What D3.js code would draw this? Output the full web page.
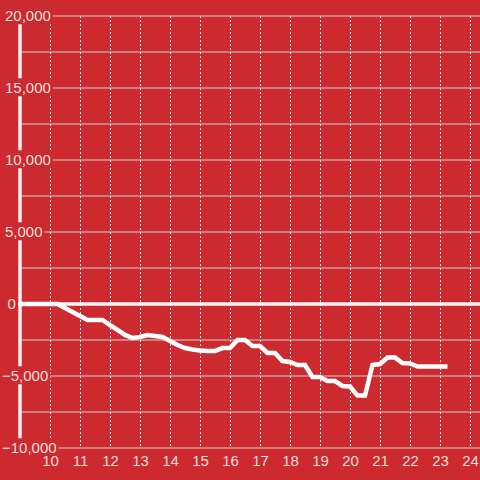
<!DOCTYPE html>
<html>
<head>
<meta charset="utf-8">
<script src="https://cdn.jsdelivr.net/npm/d3@7"></script>
<style>
html,body{margin:0;padding:0;background:#cc2a2e;}
svg{display:block;}
text{font-family:"Liberation Sans",Arial,sans-serif;font-size:15px;fill:#f4dede;}
</style>
</head>
<body>
<script>
const hours = [9,9.25,9.5,9.75,10,10.25,10.5,10.75,11,11.25,11.5,11.75,12,12.25,12.5,12.75,13,13.25,13.5,13.75,14,14.25,14.5,14.75,15,15.25,15.5,15.75,16,16.25,16.5,16.75,17,17.25,17.5,17.75,18,18.25,18.5,18.75,19,19.25,19.5,19.75,20,20.25,20.5,20.75,21,21.25,21.5,21.75,22,22.25,22.5,22.75,23,23.25];
const values = [0,0,0,0,0,0,-280,-560,-830,-1110,-1110,-1110,-1460,-1800,-2150,-2360,-2290,-2150,-2220,-2290,-2570,-2850,-3060,-3160,-3230,-3260,-3260,-3060,-3060,-2500,-2500,-2920,-2920,-3400,-3400,-3960,-4030,-4240,-4240,-5070,-5070,-5350,-5350,-5690,-5730,-6350,-6350,-4240,-4170,-3720,-3720,-4100,-4130,-4340,-4340,-4340,-4340,-4340];
const xTicks = [10,11,12,13,14,15,16,17,18,19,20,21,22,23,24];
const yGrid = [-10000,-7500,-5000,-2500,0,2500,5000,7500,10000,12500,15000,17500,20000];
const yLabels = [-10000,-5000,0,5000,10000,15000,20000];

const W = 480, H = 480, BG = "#cc2a2e";
const svg = d3.select("body").append("svg").attr("width", W).attr("height", H);
svg.append("rect").attr("width", W).attr("height", H).attr("fill", BG);

const x = d3.scaleLinear().domain([9, 24 + 1/3]).range([20, 480]);
const y = d3.scaleLinear().domain([-10000, 20000]).range([448, 16]);

// horizontal grid
svg.append("g").selectAll("line").data(yGrid.filter(d => d !== 0)).join("line")
  .attr("x1", x(9)).attr("x2", W)
  .attr("y1", d => y(d)).attr("y2", d => y(d))
  .attr("stroke", "#d2d2d2").attr("stroke-width", 1);

// vertical dashed grid
svg.append("g").selectAll("line").data(xTicks).join("line")
  .attr("x1", d => Math.round(x(d)) + 0.5).attr("x2", d => Math.round(x(d)) + 0.5)
  .attr("y1", y(20000)).attr("y2", y(-10000))
  .attr("stroke", "#e8e8e8").attr("stroke-width", 1).attr("stroke-dasharray", "2,2");

// y axis line
svg.append("line").attr("x1", x(9)).attr("x2", x(9)).attr("y1", y(20000)).attr("y2", y(-10000))
  .attr("stroke", "#f2f2f2").attr("stroke-width", 3.5);

// zero line
svg.append("line").attr("x1", x(9) - 2).attr("x2", W).attr("y1", y(0)).attr("y2", y(0))
  .attr("stroke", "#f6f6f6").attr("stroke-width", 3.5);

// data line
const line = d3.line().x((d, i) => x(hours[i])).y(d => y(d));
svg.append("path").datum(values).attr("d", line)
  .attr("fill", "none").attr("stroke", "#ffffff").attr("stroke-width", 4.5)
  .attr("stroke-linejoin", "miter");

// y labels with background boxes
const fmt = d3.format(",");
const yl = svg.append("g").selectAll("g").data(yLabels).join("g");
yl.each(function(d) {
  const g = d3.select(this);
  const t = g.append("text").attr("x", d < 0 ? 2 : (d === 0 ? 7.5 : 5)).attr("y", y(d)).attr("dy", "0.35em").text(fmt(d));
  const b = t.node().getBBox();
  g.insert("rect", "text").attr("x", b.x - 1).attr("y", b.y - 1).attr("width", b.width + 3).attr("height", b.height + 1).attr("fill", BG);
});

// x labels
svg.append("g").selectAll("text").data(xTicks).join("text")
  .attr("x", d => x(d) + 0.5).attr("y", 466).attr("text-anchor", "middle").text(d => d);
</script>
</body>
</html>
